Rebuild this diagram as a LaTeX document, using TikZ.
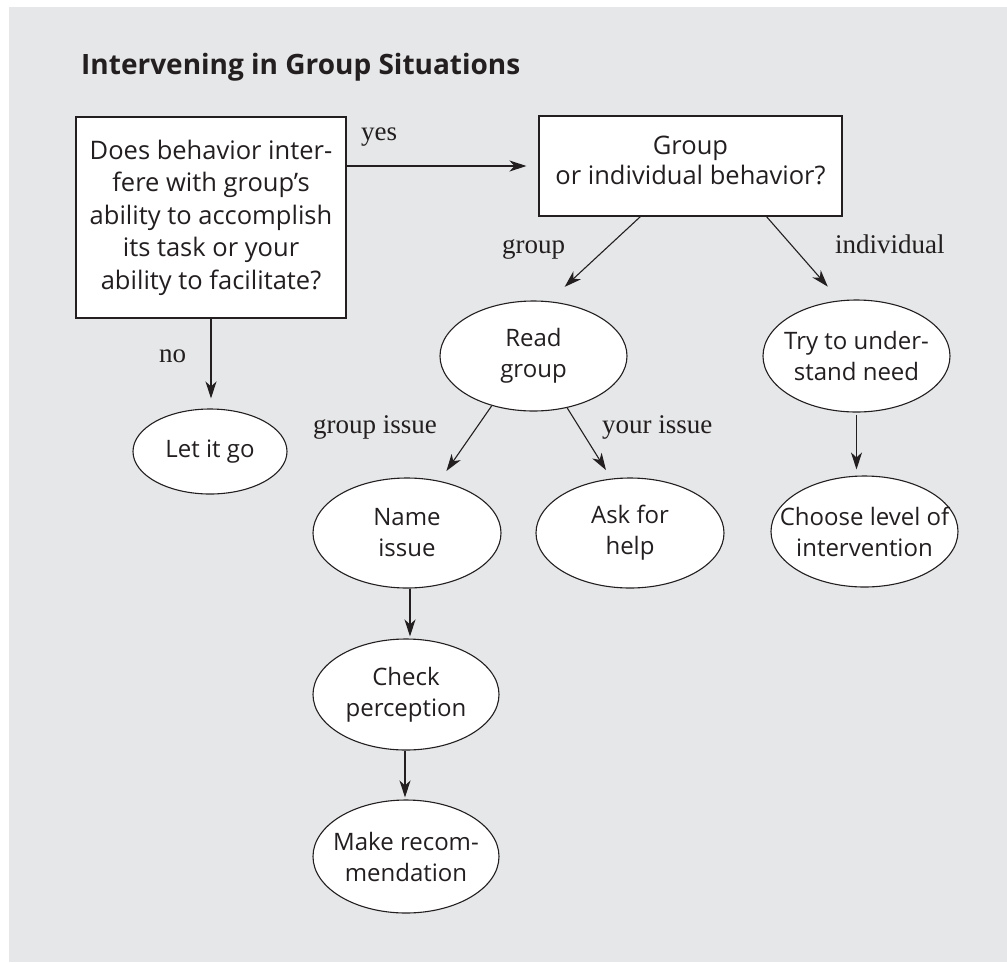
\documentclass[tikz,border=0pt]{standalone}
\usepackage{fontspec}
\setmainfont{Liberation Serif}
\newfontfamily\bodyfont{Open Sans}
\newfontfamily\titlefont{Open Sans}
\usetikzlibrary{arrows.meta,shapes.geometric,calc}
\definecolor{panel}{HTML}{E6E7E8}
\definecolor{ink}{HTML}{231F20}
\begin{document}
\begin{tikzpicture}[x=1pt,y=-1pt,
  box/.style={draw=ink, fill=white, line width=1.1pt, text=ink,
    font=\bodyfont\fontsize{25.5}{32.5}\selectfont, align=center, inner sep=0pt},
  oval/.style={ellipse, draw=ink, fill=white, line width=1.1pt, inner sep=0pt},
  txt/.style={font=\bodyfont\fontsize{24}{31}\selectfont, align=center, text=ink, inner sep=0pt},
  lbl/.style={font=\fontsize{27}{30}\selectfont, text=ink, inner sep=0pt, anchor=base west},
  arr/.style={draw=ink, line width=1.1pt, -{Stealth[length=17pt,width=11pt,inset=5pt]}}]
\useasboundingbox (0,0) rectangle (1007,962);
\fill[panel] (9,7) rectangle (1007,962);

\node[anchor=base west, inner sep=0pt, text=ink, font=\titlefont\bfseries\fontsize{28}{30}\selectfont] (title) at (81,74) {Intervening in Group Situations};

% boxes
\node[box, minimum width=270pt, minimum height=201pt] (q1) at (211,217.5)
  {Does behavior inter-\\fere with group’s\\ability to accomplish\\its task or your\\ability to facilitate?};
\node[box, minimum width=303pt, minimum height=100pt] (q2) at (690.5,166) {};
\node[txt, font=\bodyfont\fontsize{25.5}{30}\selectfont] (q2t) at (690.5,160) {Group\\or individual behavior?};

% ellipses
\node[oval, minimum width=154pt, minimum height=85pt] (let) at (210,451.5) {};
\node[txt] (lett) at (let) {Let it go};
\node[oval, minimum width=187pt, minimum height=110pt] (read) at (533.5,356) {};
\node[txt] (readt) at (read) {Read\\group};
\node[oval, minimum width=187pt, minimum height=112pt] (try) at (856.5,356) {};
\node[txt] (tryt) at (try) {Try to under-\\stand need};
\node[oval, minimum width=188pt, minimum height=110pt] (name) at (407,533) {};
\node[txt] (namet) at (name) {Name\\issue};
\node[oval, minimum width=188pt, minimum height=110pt] (ask) at (630,533) {};
\node[txt] (askt) at (ask) {Ask for\\help};
\node[oval, minimum width=187pt, minimum height=111pt] (choose) at (864.5,531.5) {};
\node[txt] (chooset) at (choose) {Choose level of\\intervention};
\node[oval, minimum width=186pt, minimum height=111pt] (check) at (406,694.5) {};
\node[txt] (checkt) at (check) {Check\\perception};
\node[oval, minimum width=186pt, minimum height=113pt] (make) at (406,856.5) {};
\node[txt] (maket) at (make) {Make recom-\\mendation};

% connectors
\draw[arr, shorten >=12pt] (q1.east |- 0,166) -- (q2.west |- 0,166);
\draw[arr, shorten >=10pt] (q1.south) -- (q1.south |- let.north);
\draw[arr, shorten >=20pt] ([xshift=102pt]q2.south west) -- ([xshift=16.5pt]read.north);
\draw[arr, shorten >=17pt] ([xshift=228pt]q2.south west) -- ([xshift=-17.5pt]try.north);
\draw[arr, shorten >=12pt] (read.230) -- (name.58);
\draw[arr, shorten >=10pt] (read.303) -- (ask.109);
\draw[arr, shorten <=2pt, shorten >=6pt] (try.south) -- (try.south |- choose.north);
\draw[arr, shorten >=2pt] ([xshift=3pt]name.south) -- ([xshift=3pt]name.south |- check.north);
\draw[arr, shorten >=2pt] ([xshift=-1pt]check.south) -- ([xshift=-1pt]check.south |- make.north);

% labels
\node[lbl] (lyes) at (361,140) {yes};
\node[lbl] (lno) at (159,362) {no};
\node[lbl] (lgroup) at (502,253) {group};
\node[lbl] (lind) at (835,253) {individual};
\node[lbl] (lgi) at (313,433) {group issue};
\node[lbl] (lyi) at (602,433) {your issue};
\end{tikzpicture}
\end{document}
